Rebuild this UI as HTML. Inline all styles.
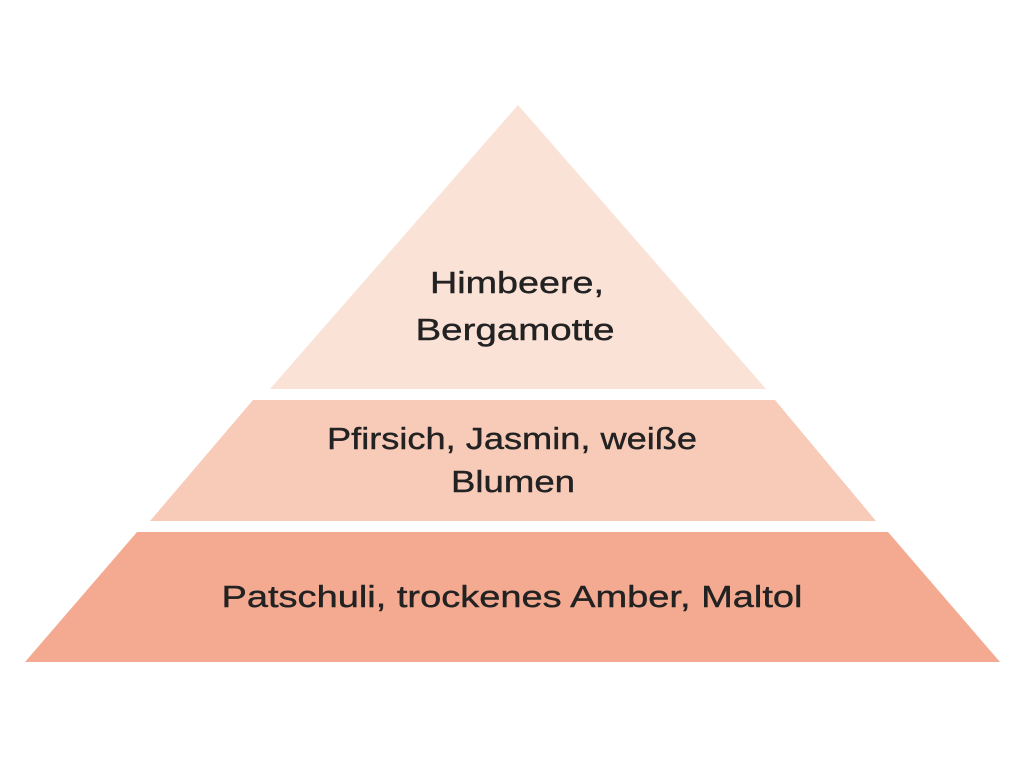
<!DOCTYPE html>
<html><head><meta charset="utf-8"><style>
html,body{margin:0;padding:0;background:#fff;width:1024px;height:768px;overflow:hidden}
svg{display:block}
text{font-family:"Liberation Sans",sans-serif;font-size:31px;fill:#222;stroke:#222;stroke-width:0.4;text-anchor:middle}
</style></head><body>
<svg width="1024" height="768" viewBox="0 0 1024 768">
<polygon points="518,105 766,389 270,389" fill="#fbe2d7"/>
<polygon points="253,400 775,400 876,521 150,521" fill="#f8cbb9"/>
<polygon points="137,532 888,532 1000,662 25,662" fill="#f4aa91"/>
<text x="517" y="293" textLength="174" lengthAdjust="spacingAndGlyphs">Himbeere,</text>
<text x="515" y="340" textLength="199" lengthAdjust="spacingAndGlyphs">Bergamotte</text>
<text x="512" y="449" textLength="370" lengthAdjust="spacingAndGlyphs">Pfirsich, Jasmin, weiße</text>
<text x="513" y="492" textLength="124" lengthAdjust="spacingAndGlyphs">Blumen</text>
<text x="512" y="607" textLength="581" lengthAdjust="spacingAndGlyphs">Patschuli, trockenes Amber, Maltol</text>
</svg>
</body></html>
